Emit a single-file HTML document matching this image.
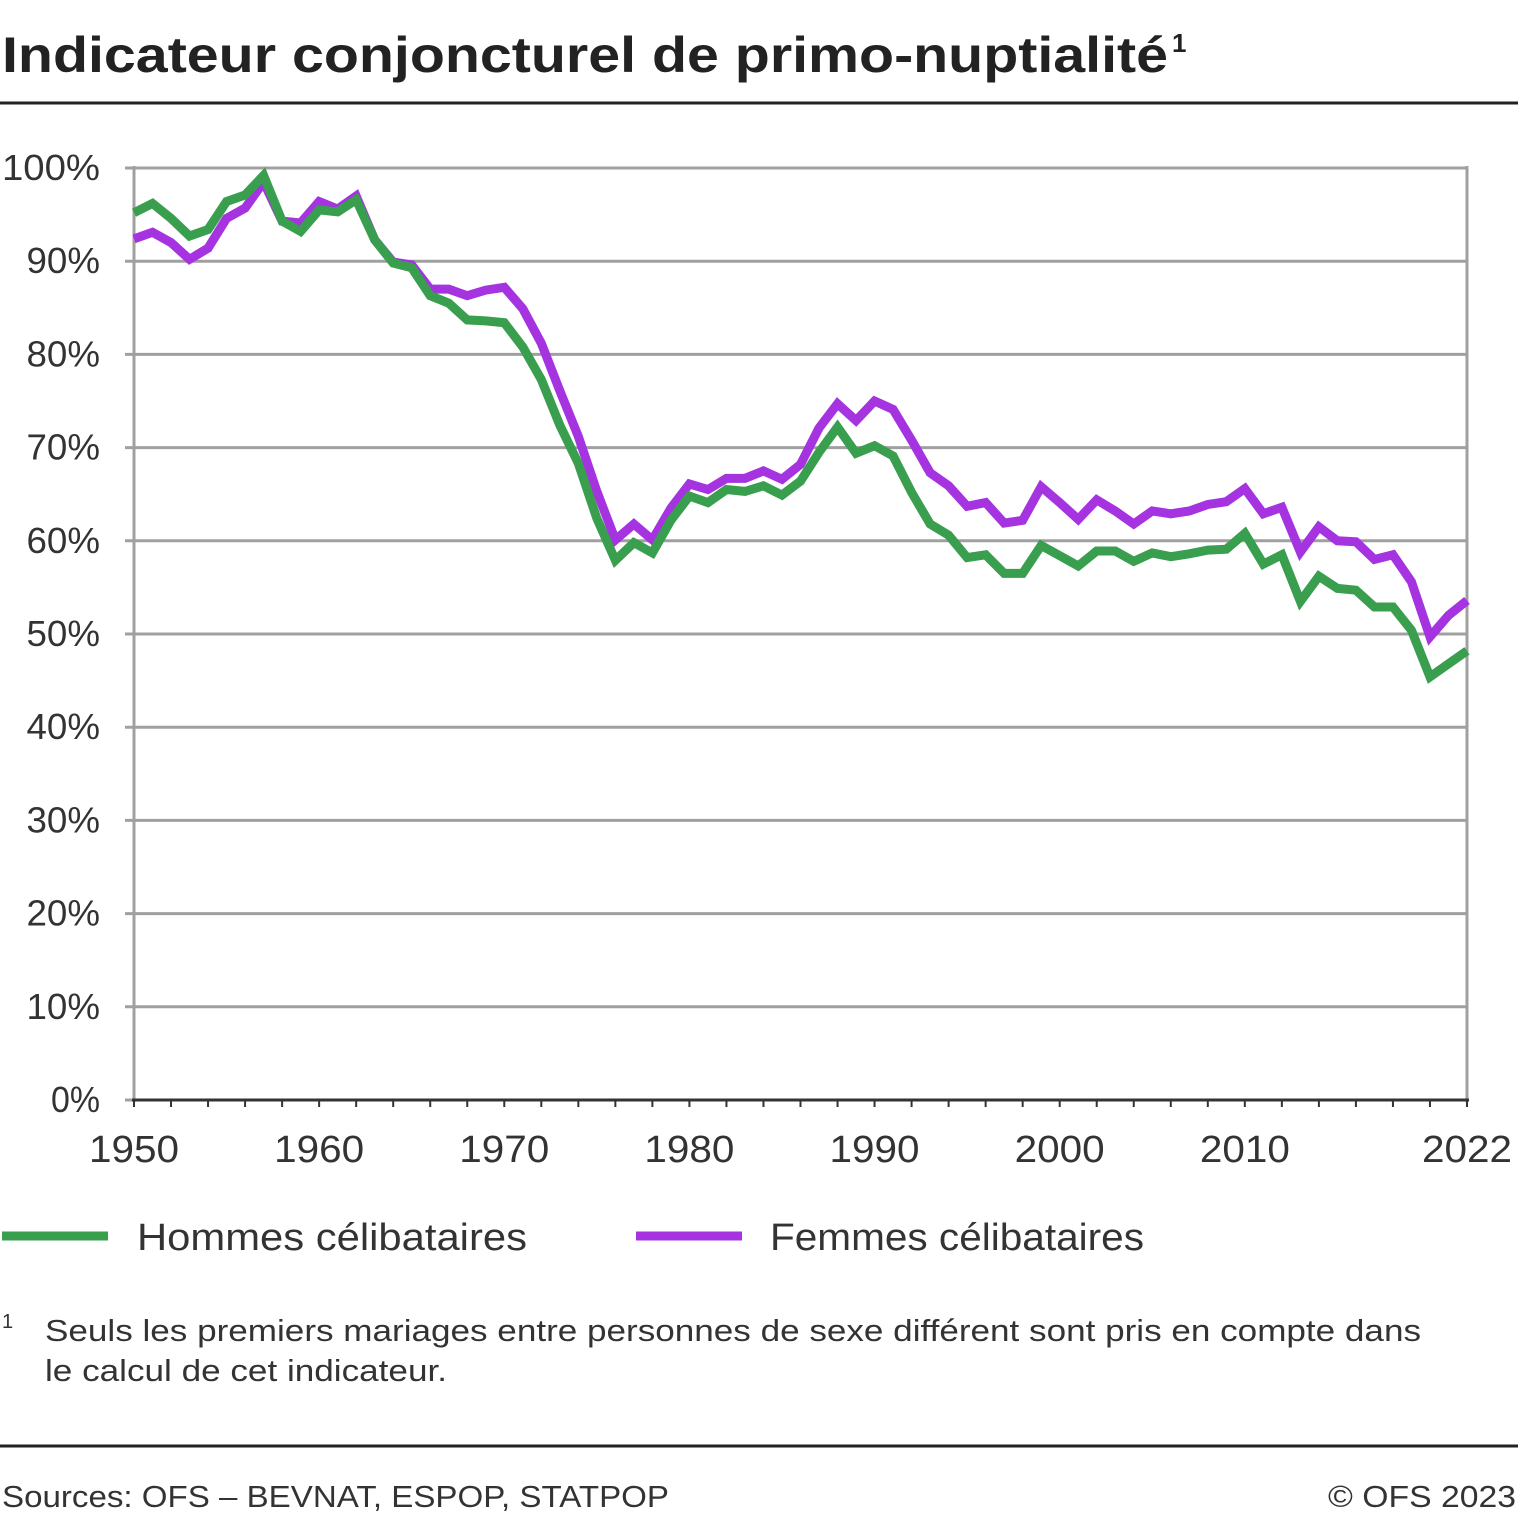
<!DOCTYPE html>
<html><head><meta charset="utf-8"><style>
body{margin:0;background:#fff;font-family:"Liberation Sans",sans-serif;}
svg text{font-family:"Liberation Sans",sans-serif;}
</style></head><body>
<svg width="1518" height="1517" viewBox="0 0 1518 1517">
<text x="2" y="72" font-size="50" font-weight="bold" fill="#222" textLength="1166" lengthAdjust="spacingAndGlyphs">Indicateur conjoncturel de primo-nuptialité</text>
<text x="1172" y="52" font-size="26" font-weight="bold" fill="#222">1</text>
<line x1="0" y1="103" x2="1518" y2="103" stroke="#222" stroke-width="3"/>
<g id="grid"></g>
<g id="series"></g>
<g>
<line x1="2" y1="1236" x2="108" y2="1236" stroke="#3a9e4f" stroke-width="9"/>
<text x="137" y="1250" font-size="38" fill="#333" textLength="390" lengthAdjust="spacingAndGlyphs">Hommes célibataires</text>
<line x1="636" y1="1236" x2="742" y2="1236" stroke="#a533e0" stroke-width="9"/>
<text x="770" y="1250" font-size="38" fill="#333" textLength="374" lengthAdjust="spacingAndGlyphs">Femmes célibataires</text>
</g>
<text x="2" y="1328" font-size="20" fill="#333">1</text>
<text x="45" y="1341" font-size="31" fill="#333" textLength="1376" lengthAdjust="spacingAndGlyphs">Seuls les premiers mariages entre personnes de sexe différent sont pris en compte dans</text>
<text x="45" y="1381" font-size="31" fill="#333" textLength="402" lengthAdjust="spacingAndGlyphs">le calcul de cet indicateur.</text>
<line x1="0" y1="1446" x2="1518" y2="1446" stroke="#222" stroke-width="3"/>
<text x="2" y="1507" font-size="31" fill="#333" textLength="667" lengthAdjust="spacingAndGlyphs">Sources: OFS – BEVNAT, ESPOP, STATPOP</text>
<text x="1516" y="1507" font-size="31" fill="#333" text-anchor="end" textLength="188" lengthAdjust="spacingAndGlyphs">© OFS 2023</text>
</svg>
<script>
const years=[];for(let y=1950;y<=2022;y++)years.push(y);
const hommes=[95.2,96.2,94.6,92.7,93.4,96.4,97.1,99.2,94.3,93.2,95.5,95.3,96.6,92.3,89.8,89.3,86.3,85.5,83.7,83.6,83.4,80.8,77.3,72.4,68.3,62.4,57.9,59.8,58.7,62.2,64.8,64.1,65.5,65.3,65.9,64.9,66.4,69.5,72.2,69.4,70.2,69.1,65.2,61.8,60.6,58.2,58.5,56.5,56.5,59.5,58.4,57.3,58.9,58.9,57.8,58.7,58.3,58.6,59.0,59.1,60.8,57.5,58.5,53.5,56.2,54.9,54.7,52.9,52.9,50.4,45.4,46.8,48.2];
const femmes=[92.4,93.1,92.0,90.2,91.4,94.6,95.7,98.5,94.3,94.1,96.4,95.6,97.0,92.3,89.9,89.6,87.0,87.0,86.3,86.9,87.2,84.9,81.2,76.1,71.2,65.3,60.1,61.8,60.1,63.5,66.1,65.5,66.7,66.7,67.5,66.6,68.2,72.1,74.7,72.9,75.0,74.1,70.8,67.3,65.9,63.7,64.1,61.9,62.2,65.8,64.1,62.3,64.4,63.2,61.8,63.2,62.9,63.2,63.9,64.2,65.6,62.9,63.6,58.8,61.5,60.0,59.9,58.0,58.5,55.6,49.7,52.0,53.6];
const yTicks=[0,10,20,30,40,50,60,70,80,90,100];
const xLabels=[1950,1960,1970,1980,1990,2000,2010,2022];
const NS='http://www.w3.org/2000/svg';
const X=y=>134+(y-1950)*(1467-134)/72;
const Y=v=>1100-v*9.32;
function mk(t,a,p){const e=document.createElementNS(NS,t);for(const k in a)e.setAttribute(k,a[k]);p.appendChild(e);return e;}
const g=document.getElementById('grid');
yTicks.forEach(v=>{
 const l=mk('line',{x1:125,x2:1467,y1:Y(v),y2:Y(v),stroke:'#a0a0a0','stroke-width':3},g);
 
 
 const w=(String(v).length+1)*24.5;
 const t=mk('text',{x:100,y:Y(v)+12,'font-size':36,fill:'#333','text-anchor':'end',textLength:w,lengthAdjust:'spacingAndGlyphs'},g);t.textContent=v+'%';
 
 
});
const ax=mk('line',{x1:134,x2:134,y1:166,y2:1102,stroke:'#a0a0a0','stroke-width':3},g);


const rx=mk('line',{x1:1467,x2:1467,y1:166,y2:1102,stroke:'#a0a0a0','stroke-width':3},g);


const xa=mk('line',{x1:132,x2:1469,y1:1100,y2:1100,stroke:'#333','stroke-width':3},g);


for(let y=1950;y<=2022;y+=2){const tk=mk('line',{x1:X(y),x2:X(y),y1:1100,y2:1107,stroke:'#333','stroke-width':2},g);
 
 }
xLabels.forEach(y=>{const t=mk('text',{x:X(y),y:1162,'font-size':38,fill:'#333','text-anchor':'middle',textLength:90,lengthAdjust:'spacingAndGlyphs'},g);t.textContent=y;
 
 });
const s=document.getElementById('series');
[[hommes,'#3a9e4f','line-hommes'],[femmes,'#a533e0','line-femmes']].reverse().forEach(([d,c,n])=>{
 const p=mk('polyline',{points:d.map((v,i)=>X(years[i])+','+Y(v)).join(' '),fill:'none',stroke:c,'stroke-width':9,'stroke-linejoin':'miter'},s);
 
 
});
</script>
</body></html>
